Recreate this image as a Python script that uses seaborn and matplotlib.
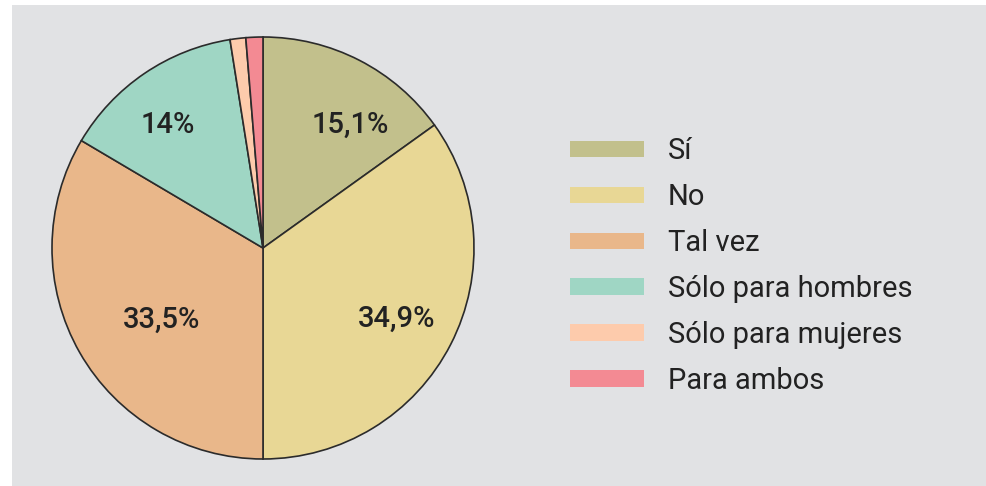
import matplotlib
matplotlib.use("Agg")
import matplotlib.pyplot as plt
from matplotlib.patches import Rectangle
import seaborn as sns

# Datos del gráfico
categorias = ["Sí", "No", "Tal vez", "Sólo para hombres", "Sólo para mujeres", "Para ambos"]
valores = [15.1, 34.9, 33.5, 14.0, 1.2, 1.3]
etiquetas = ["15,1%", "34,9%", "33,5%", "14%"]
# posición (línea base) de cada etiqueta, en unidades del radio
pos_etiquetas = [(0.412, 0.545), (0.633, -0.374), (-0.479, -0.379), (-0.450, 0.545)]
colores = ["#c2c08c", "#e8d795", "#e9b78a", "#9fd6c4", "#fdcbac", "#f38a93"]

sns.set_theme(style="white")
plt.rcParams['font.family'] = ['Roboto', 'DejaVu Sans']

W, H = 987, 486
fig = plt.figure(figsize=(W / 100, H / 100), dpi=100)
fig.patch.set_facecolor("white")
fig.add_artist(Rectangle((12 / W, 0), 1, 1 - 5 / H, transform=fig.transFigure,
                         facecolor="#e1e2e4", edgecolor="none", zorder=0))

cx, cy, r = 263, 248, 211
ax = fig.add_axes([(cx - r) / W, (H - cy - r) / H, 2 * r / W, 2 * r / H])
ax.set_facecolor("none")

palette = sns.color_palette(colores)
wedges, _ = ax.pie(valores, colors=palette, startangle=90, counterclock=False,
                   wedgeprops=dict(edgecolor="#2b2b2b", linewidth=1.2))

for lab, (x, y) in zip(etiquetas, pos_etiquetas):
    ax.text(x, y, lab, ha="center", va="baseline", fontsize=21,
            fontweight="medium", color="#222222")

ax.set_xlim(-1, 1)
ax.set_ylim(-1, 1)
ax.set_aspect("equal")
ax.axis("off")

leg = fig.legend(wedges, categorias, loc="center left", bbox_to_anchor=(570 / W, 1 - 266 / H),
                 frameon=False, fontsize=21, handlelength=2.53, handleheight=0.48,
                 handletextpad=0.82, labelspacing=0.615, borderaxespad=0, borderpad=0)
for h in leg.legend_handles:
    h.set_edgecolor("none")
for t in leg.get_texts():
    t.set_color("#222222")

fig.savefig("out.png", dpi=100, facecolor="white")
